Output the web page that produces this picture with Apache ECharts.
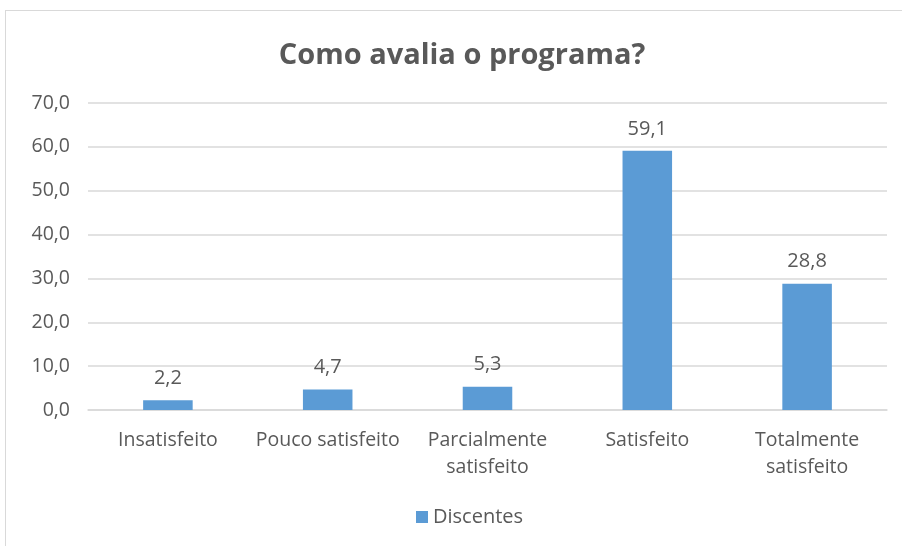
<!DOCTYPE html>
<html>
<head>
<meta charset="utf-8">
<script src="https://cdn.jsdelivr.net/npm/echarts@6/dist/echarts.min.js"></script>
<style>
  html, body { margin: 0; padding: 0; background: #ffffff; }
  #frame { position: absolute; left: 5px; top: 10px; width: 902px; height: 546px; border: 1px solid #d9d9d9; box-sizing: border-box; }
  #chart { position: absolute; left: 0; top: 0; width: 902px; height: 546px; }
</style>
</head>
<body>
<div id="frame"></div>
<div id="chart"></div>
<script>
const categories = ['Insatisfeito', 'Pouco satisfeito', 'Parcialmente\nsatisfeito', 'Satisfeito', 'Totalmente\nsatisfeito'];
const discentes = [2.2, 4.7, 5.3, 59.1, 28.8];
const seriesName = 'Discentes';

const fmt = v => v.toFixed(1).replace('.', ',');
const textColor = '#595959';
const font = '"Open Sans", "Noto Sans", sans-serif';

const chart = echarts.init(document.getElementById('chart'), null, { renderer: 'canvas' });
chart.setOption({
  animation: false,
  title: {
    text: 'Como avalia o programa?',
    left: 457, top: 36, textAlign: 'center',
    textStyle: { color: textColor, fontSize: 29, fontWeight: 'bold', fontFamily: font }
  },
  legend: {
    bottom: 14, left: 411,
    itemWidth: 12, itemHeight: 12, icon: 'rect', itemGap: 6,
    textStyle: { color: textColor, fontSize: 20, fontFamily: font },
    data: [seriesName]
  },
  grid: { left: 88, right: 15, top: 103, bottom: 136 },
  xAxis: {
    type: 'category',
    data: categories,
    axisTick: { show: false },
    axisLine: { lineStyle: { color: '#d9d9d9', width: 1.5 } },
    axisLabel: { color: textColor, fontSize: 19.5, fontFamily: font, margin: 17, lineHeight: 27, interval: 0 }
  },
  yAxis: {
    type: 'value', min: 0, max: 70, interval: 10,
    axisLabel: { color: textColor, fontSize: 19.5, fontFamily: font, margin: 18, formatter: fmt },
    splitLine: { lineStyle: { color: '#d9d9d9', width: 1.5 } },
    axisLine: { show: false }, axisTick: { show: false }
  },
  series: [{
    name: seriesName,
    type: 'bar',
    data: discentes,
    barWidth: '31%',
    itemStyle: { color: '#5b9bd5' },
    label: {
      show: true, position: 'top', distance: 12,
      color: textColor, fontSize: 20, fontFamily: font,
      formatter: p => fmt(p.value)
    }
  }]
});
</script>
</body>
</html>
